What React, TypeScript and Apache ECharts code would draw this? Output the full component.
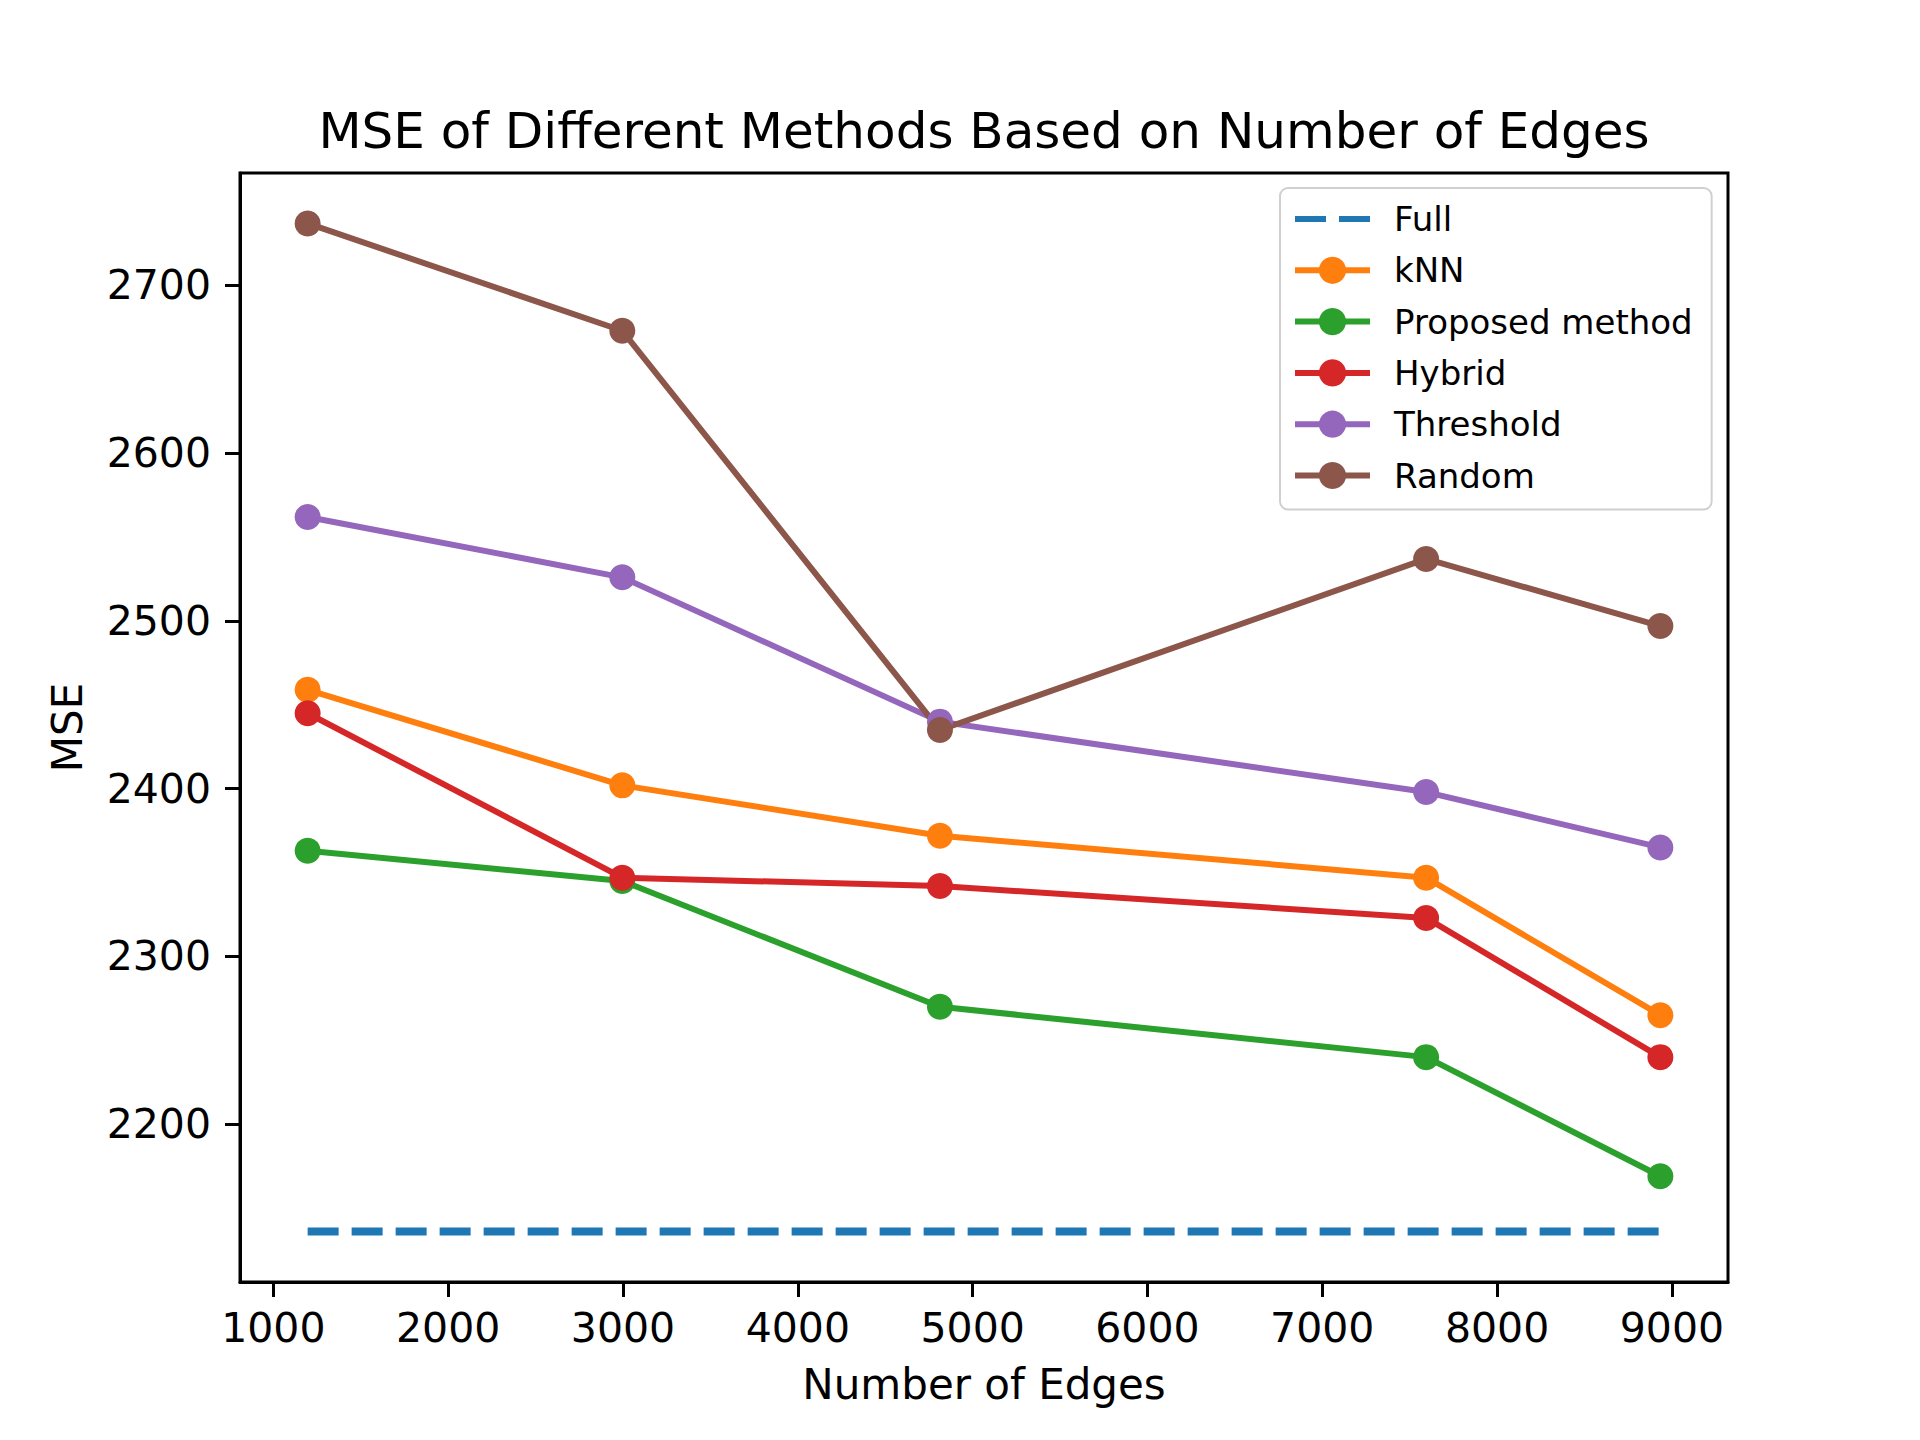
import React, { useEffect, useRef } from "react";
import * as echarts from "echarts";

const edges = [1196, 2996, 4813, 7594, 8934];
const fullMSE = [2136, 2136, 2136, 2136, 2136];
const knnMSE = [2459, 2402, 2372, 2347, 2265];
const proposedMSE = [2363, 2345, 2270, 2240, 2169];
const hybridMSE = [2445, 2347, 2342, 2323, 2240];
const thresholdMSE = [2562, 2526, 2440, 2398, 2365];
const randomMSE = [2737, 2673, 2435, 2537, 2497];
const xTicks = [1000, 2000, 3000, 4000, 5000, 6000, 7000, 8000, 9000];
const yTicks = [2200, 2300, 2400, 2500, 2600, 2700];

const FONT = "DejaVu Sans";

export default function App() {
  const ref = useRef<HTMLDivElement>(null);
  useEffect(() => {
    document.body.style.margin = "0";
    const chart = echarts.init(ref.current!, null, { renderer: "svg" });
    const pair = (ys: number[]) => edges.map((x, i) => [x, ys[i]]);
    const allY = [...fullMSE, ...knnMSE, ...proposedMSE, ...hybridMSE, ...thresholdMSE, ...randomMSE];
    const xr = edges[edges.length - 1] - edges[0];
    const yMin = Math.min(...allY);
    const yMax = Math.max(...allY);
    const yr = yMax - yMin;
    const lineSeries = (name: string, ys: number[], color: string) => ({
      name,
      type: "line",
      data: pair(ys),
      symbol: "circle",
      symbolSize: 26,
      showSymbol: true,
      itemStyle: { color },
      lineStyle: { color, width: 6 },
      emphasis: { disabled: true },
    });
    chart.setOption({
      animation: false,
      backgroundColor: "#ffffff",
      textStyle: { fontFamily: FONT },
      grid: {
        left: 240,
        right: 192,
        top: 173,
        bottom: 158,
        show: true,
        borderColor: "#000",
        borderWidth: 3,
        backgroundColor: "transparent",
      },
      xAxis: {
        type: "value",
        min: edges[0] - 0.05 * xr,
        max: edges[edges.length - 1] + 0.05 * xr,
        splitLine: { show: false },
        axisLine: { show: true, lineStyle: { color: "#000", width: 3 } },
        axisTick: { show: true, length: 15, lineStyle: { color: "#000", width: 3 }, customValues: xTicks },
        axisLabel: {
          customValues: xTicks,
          formatter: (v: number) => String(v),
          color: "#000",
          fontSize: 41,
          fontFamily: FONT,
          margin: 25,
        },
        name: "Number of Edges",
        nameLocation: "middle",
        nameGap: 81,
        nameTextStyle: { color: "#000", fontSize: 42, fontFamily: FONT },
      },
      yAxis: {
        type: "value",
        min: yMin - 0.05 * yr,
        max: yMax + 0.05 * yr,
        splitLine: { show: false },
        axisLine: { show: true, lineStyle: { color: "#000", width: 3 } },
        axisTick: { show: true, length: 15, lineStyle: { color: "#000", width: 3 }, customValues: yTicks },
        axisLabel: {
          customValues: yTicks,
          formatter: (v: number) => String(v),
          color: "#000",
          fontSize: 41,
          fontFamily: FONT,
          margin: 29,
        },
        name: "MSE",
        nameLocation: "middle",
        nameGap: 152,
        nameTextStyle: { color: "#000", fontSize: 42, fontFamily: FONT },
      },
      legend: {
        orient: "vertical",
        left: 1280,
        top: 188,
        padding: [14, 19, 17, 12],
        itemWidth: 75,
        itemHeight: 34,
        itemGap: 17.3,
        selectedMode: false,
        backgroundColor: "#ffffff",
        borderColor: "#d0d0d0",
        borderWidth: 2,
        borderRadius: 8,
        lineStyle: { width: 6 },
        textStyle: { color: "#000", fontSize: 34, fontFamily: FONT, lineHeight: 34, padding: [0, 0, 0, 19] },
        data: [
          { name: "Full", itemStyle: { opacity: 0 } },
          "kNN",
          "Proposed method",
          "Hybrid",
          "Threshold",
          "Random",
        ],
      },
      graphic: [
        {
          type: "text",
          x: 984,
          y: 131,
          style: {
            text: "MSE of Different Methods Based on Number of Edges",
            fontSize: 50,
            fontFamily: FONT,
            fill: "#000",
            textAlign: "center",
            textVerticalAlign: "middle",
          },
        },
      ],
      series: [
        {
          name: "Full",
          type: "line",
          data: pair(fullMSE),
          symbol: "none",
          itemStyle: { color: "#1f77b4" },
          lineStyle: { color: "#1f77b4", width: 8, type: [31, 13] },
          emphasis: { disabled: true },
        },
        lineSeries("kNN", knnMSE, "#ff7f0e"),
        lineSeries("Proposed method", proposedMSE, "#2ca02c"),
        lineSeries("Hybrid", hybridMSE, "#d62728"),
        lineSeries("Threshold", thresholdMSE, "#9467bd"),
        lineSeries("Random", randomMSE, "#8c564b"),
      ],
    });
    return () => chart.dispose();
  }, []);
  return <div ref={ref} style={{ width: 1920, height: 1440 }} />;
}
